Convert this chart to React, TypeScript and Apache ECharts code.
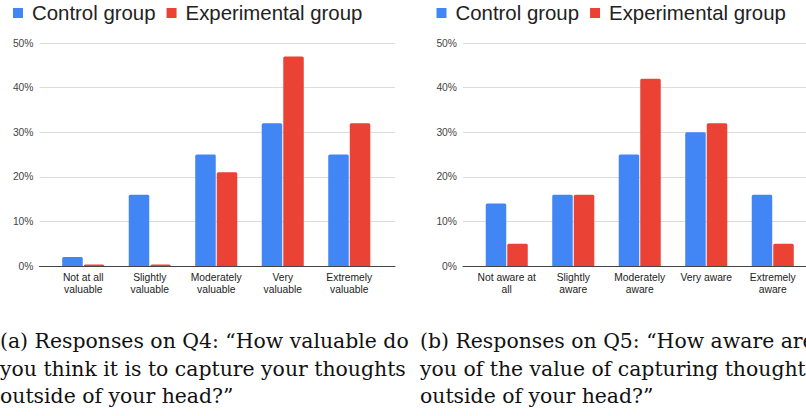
import React, { useEffect, useRef } from "react";
import * as echarts from "echarts";

const q4Categories = [
  "Not at all\nvaluable",
  "Slightly\nvaluable",
  "Moderately\nvaluable",
  "Very\nvaluable",
  "Extremely\nvaluable",
];
const q4Control = [2, 16, 25, 32, 25];
const q4Experimental = [0, 0, 21, 47, 32];

const q5Categories = [
  "Not aware at\nall",
  "Slightly\naware",
  "Moderately\naware",
  "Very aware",
  "Extremely\naware",
];
const q5Control = [14, 16, 25, 30, 16];
const q5Experimental = [5, 16, 42, 32, 5];

const seriesNames = ["Control group", "Experimental group"];
const yMin = 0;
const yMax = 50;
const yInterval = 10;

const captionA = [
  "(a) Responses on Q4: \u201cHow valuable do",
  "you think it is to capture your thoughts",
  "outside of your head?\u201d",
];
const captionB = [
  "(b) Responses on Q5: \u201cHow aware are",
  "you of the value of capturing thoughts",
  "outside of your head?\u201d",
];

const BLUE = "#4285f4";
const RED = "#ea4335";
const SANS = "Liberation Sans, Arial, sans-serif";
const SERIF = "DejaVu Serif, serif";

export default function App() {
  const ref = useRef<HTMLDivElement>(null);

  useEffect(() => {
    if (!ref.current) return;
    const chart = echarts.init(ref.current, undefined, { renderer: "svg" });

    const offsets = [0, 423.5];
    const cats = [q4Categories, q5Categories];
    const ctrl = [q4Control, q5Control];
    const expt = [q4Experimental, q5Experimental];

    const grids: any[] = [];
    const xAxes: any[] = [];
    const yAxes: any[] = [];
    const series: any[] = [];
    const legends: any[] = [];

    offsets.forEach((o, k) => {
      const bgLeft = 39.5 + o;
      const bgWidth = Math.min(355.5, 806 - bgLeft);
      grids.push({ left: bgLeft, top: 43, width: bgWidth, height: 223 });
      grids.push({ left: 50 + o, top: 43, width: 332.5, height: 223 });
      const gBg = k * 2;
      const gBar = k * 2 + 1;

      xAxes.push({
        gridIndex: gBg,
        type: "category",
        data: cats[k],
        axisLine: { show: true, lineStyle: { color: "#444", width: 1.2 } },
        axisTick: { show: false },
        axisLabel: { show: false },
        splitLine: { show: false },
      });
      xAxes.push({
        gridIndex: gBar,
        type: "category",
        data: cats[k],
        axisLine: { show: false },
        axisTick: { show: false },
        axisLabel: {
          interval: 0,
          fontSize: 10.3,
          lineHeight: 12,
          margin: 5,
          color: "#222",
          fontFamily: SANS,
        },
      });
      yAxes.push({
        gridIndex: gBg,
        type: "value",
        min: yMin,
        max: yMax,
        interval: yInterval,
        axisLine: { show: false },
        axisTick: { show: false },
        axisLabel: {
          formatter: "{value}%",
          fontSize: 10.3,
          color: "#444",
          margin: 6,
          fontFamily: SANS,
        },
        splitLine: { lineStyle: { color: "#dcdcdc", width: 1 } },
      });
      yAxes.push({
        gridIndex: gBar,
        type: "value",
        min: yMin,
        max: yMax,
        interval: yInterval,
        show: false,
      });

      series.push({
        type: "bar",
        name: seriesNames[0],
        xAxisIndex: gBar,
        yAxisIndex: gBar,
        data: ctrl[k],
        barWidth: 20.5,
        barGap: "5%",
        barMinHeight: 1.5,
        itemStyle: { color: BLUE, borderRadius: [1.5, 1.5, 0, 0] },
      });
      series.push({
        type: "bar",
        name: seriesNames[1],
        xAxisIndex: gBar,
        yAxisIndex: gBar,
        data: expt[k],
        barWidth: 20.5,
        barGap: "5%",
        barMinHeight: 1.5,
        itemStyle: { color: RED, borderRadius: [1.5, 1.5, 0, 0] },
      });

      legends.push({
        left: 13 + o,
        top: 3,
        padding: 0,
        icon: "rect",
        itemWidth: 10,
        itemHeight: 10,
        itemGap: 11,
        data: seriesNames,
        selectedMode: false,
        textStyle: {
          fontSize: 20.4,
          color: "#222",
          fontFamily: SANS,
          padding: [0, 0, 0, 4],
        },
      });
    });

    const captionLines = (lines: string[], x: number) =>
      lines.map((t, i) => ({
        type: "text",
        x,
        y: 341 + i * 27.5,
        silent: true,
        style: {
          text: t,
          fontFamily: SERIF,
          fontSize: 20.4,
          fill: "#111",
          verticalAlign: "middle",
          align: "left",
        },
      }));

    chart.setOption({
      animation: false,
      backgroundColor: "#ffffff",
      legend: legends,
      grid: grids,
      xAxis: xAxes,
      yAxis: yAxes,
      series,
      graphic: [...captionLines(captionA, 0), ...captionLines(captionB, 420)],
    });

    return () => chart.dispose();
  }, []);

  return (
    <div
      ref={ref}
      style={{ position: "fixed", left: 0, top: 0, width: 806, height: 416 }}
    />
  );
}
